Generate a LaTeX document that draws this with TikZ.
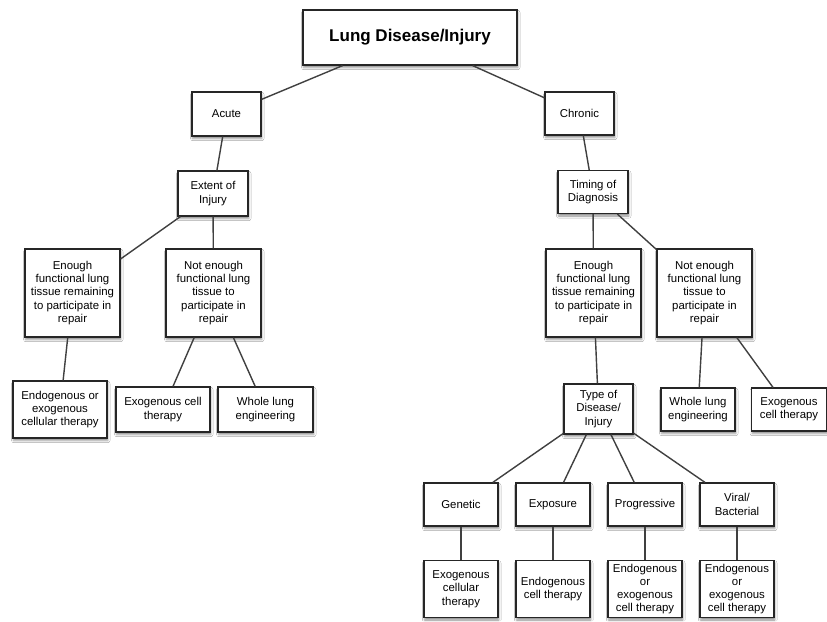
\documentclass[tikz,border=0pt]{standalone}
\usepackage{fontspec}
\setmainfont{Liberation Sans}
\usetikzlibrary{shadows.blur}
\begin{document}
\begin{tikzpicture}[x=1pt,y=-1pt,
  box/.style={draw=black!85, line width=1.2pt, fill=white, align=center, inner sep=1pt,
    font=\fontsize{11.4}{13.3}\selectfont,
    blur shadow={shadow xshift=0.8pt, shadow yshift=-2.5pt, shadow blur radius=2.2pt, shadow opacity=45}},
  link/.style={draw=black!75, line width=1.4pt}]
\fill[white] (0,0) rectangle (827,621);
\useasboundingbox (0,0) rectangle (827,621);
% nodes
\node[box, minimum width=214pt, minimum height=55pt, font=\fontsize{17}{20}\selectfont\bfseries] (top) at (410,37.5) {Lung Disease/Injury};
\node[box, minimum width=69pt, minimum height=44pt] (acute) at (226.5,114) {Acute};
\node[box, minimum width=69pt, minimum height=43pt] (chronic) at (579.5,113.5) {Chronic};
\node[box, minimum width=70pt, minimum height=45pt] (extent) at (213,193.5) {Extent of\\Injury};
\node[box, minimum width=70pt, minimum height=43pt] (timing) at (593,192) {Timing of\\Diagnosis};
\node[box, minimum width=95pt, minimum height=88pt] (enoughL) at (72.5,293) {Enough\\functional lung\\tissue remaining\\to participate in\\repair};
\node[box, minimum width=95pt, minimum height=88pt] (notL) at (213.5,293) {Not enough\\functional lung\\tissue to\\participate in\\repair};
\node[box, minimum width=94pt, minimum height=57pt] (endoL) at (60,409.5) {Endogenous or\\exogenous\\cellular therapy};
\node[box, minimum width=94pt, minimum height=45pt] (exoL) at (163,409.5) {Exogenous cell\\therapy};
\node[box, minimum width=95pt, minimum height=45pt] (wholeL) at (265.5,409.5) {Whole lung\\engineering};
\node[box, minimum width=95pt, minimum height=88pt] (enoughR) at (593.5,293) {Enough\\functional lung\\tissue remaining\\to participate in\\repair};
\node[box, minimum width=95pt, minimum height=88pt] (notR) at (704.5,293) {Not enough\\functional lung\\tissue to\\participate in\\repair};
\node[box, minimum width=69pt, minimum height=50pt] (type) at (598.5,409) {Type of\\Disease/\\Injury};
\node[box, minimum width=74pt, minimum height=43pt] (wholeR) at (698,409.5) {Whole lung\\engineering};
\node[box, minimum width=75pt, minimum height=43pt] (exoR) at (789,409.5) {Exogenous\\cell therapy};
\node[box, minimum width=74pt, minimum height=43pt] (genetic) at (461,504.5) {Genetic};
\node[box, minimum width=74pt, minimum height=43pt] (exposure) at (553,504.5) {Exposure};
\node[box, minimum width=74pt, minimum height=43pt] (progressive) at (645,504.5) {Progressive};
\node[box, minimum width=74pt, minimum height=43pt] (viral) at (737,504.5) {Viral/\\Bacterial};
\node[box, minimum width=74pt, minimum height=57pt] (t1) at (461,589) {Exogenous\\cellular\\therapy};
\node[box, minimum width=74pt, minimum height=57pt] (t2) at (553,589) {Endogenous\\cell therapy};
\node[box, minimum width=74pt, minimum height=57pt] (t3) at (645,589) {Endogenous\\or\\exogenous\\cell therapy};
\node[box, minimum width=74pt, minimum height=57pt] (t4) at (737,589) {Endogenous\\or\\exogenous\\cell therapy};
% links
\path[link] (top) -- (acute);
\path[link] (top) -- (chronic);
\path[link] (acute) -- (extent);
\path[link] (chronic) -- (timing);
\path[link] (extent) -- (enoughL);
\path[link] (extent) -- (notL);
\path[link] (enoughL) -- (endoL);
\path[link] (notL) -- (exoL);
\path[link] (notL) -- (wholeL);
\path[link] (timing) -- (enoughR);
\path[link] (timing) -- (notR);
\path[link] (enoughR) -- (type);
\path[link] (notR) -- (wholeR);
\path[link] (notR) -- (exoR);
\path[link] (type) -- (genetic);
\path[link] (type) -- (exposure);
\path[link] (type) -- (progressive);
\path[link] (type) -- (viral);
\path[link] (genetic) -- (t1);
\path[link] (exposure) -- (t2);
\path[link] (progressive) -- (t3);
\path[link] (viral) -- (t4);
\end{tikzpicture}
\end{document}
